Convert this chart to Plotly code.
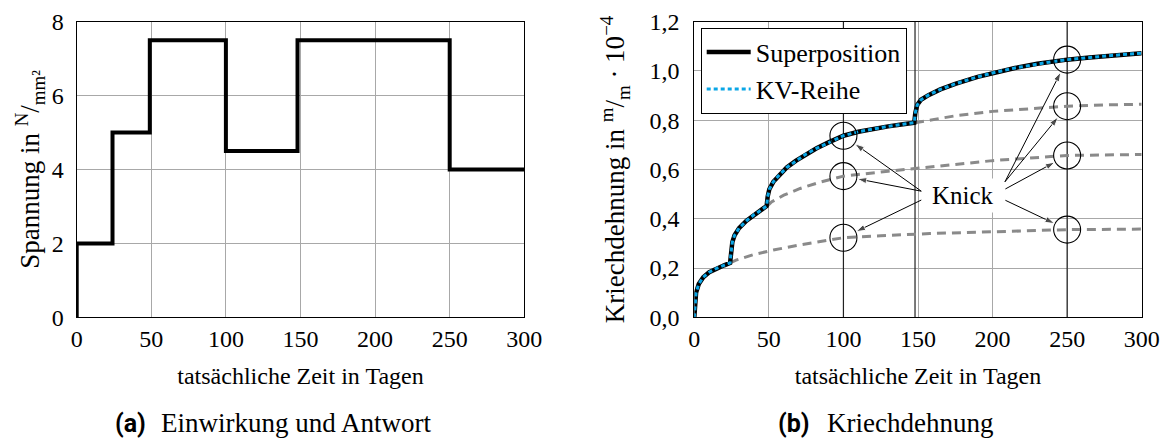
import numpy as np
import plotly.graph_objects as go

# ---------------------------------------------------------------
# (a) Belastungsgeschichte: Spannung in N/mm² über der Zeit in Tagen
# ---------------------------------------------------------------
t_stress = [0, 0, 24, 24, 49, 49, 100, 100, 148, 148, 250, 250, 300]
sigma = [0, 2, 2, 5, 5, 7.5, 7.5, 4.5, 4.5, 7.5, 7.5, 4, 4]

# ---------------------------------------------------------------
# (b) Kriechdehnung in m/m · 1e-4
# ---------------------------------------------------------------
t_super = [0, 0.5, 1.2, 3, 6, 10, 15, 20, 24, 24.6, 25.5, 27, 30, 35, 40, 45,
           48.5, 49.2, 50.3, 53, 57, 62, 68, 75, 82, 90, 100, 110, 120, 130,
           140, 147.5, 148.2, 149.5, 152, 157, 165, 175, 190, 200, 215, 230,
           240, 250, 265, 280, 300]
eps_super = [0.0, 0.06, 0.10, 0.135, 0.163, 0.183, 0.199, 0.211, 0.221, 0.26,
             0.305, 0.333, 0.362, 0.392, 0.416, 0.436, 0.452, 0.49, 0.52, 0.55,
             0.578, 0.608, 0.635, 0.663, 0.686, 0.710, 0.737, 0.753, 0.765,
             0.775, 0.784, 0.790, 0.83, 0.862, 0.883, 0.902, 0.925, 0.948,
             0.976, 0.992, 1.012, 1.029, 1.038, 1.046, 1.055, 1.063, 1.072]

# KV-Reihe (Kelvin-Voigt-Reihe), deckungsgleich mit der Superposition
t_kv = list(t_super)
eps_kv = [0.0, 0.06, 0.10, 0.135, 0.163, 0.183, 0.199, 0.211, 0.221, 0.26,
          0.305, 0.333, 0.362, 0.392, 0.416, 0.436, 0.452, 0.49, 0.52, 0.55,
          0.578, 0.608, 0.635, 0.663, 0.686, 0.710, 0.737, 0.753, 0.765,
          0.775, 0.784, 0.790, 0.83, 0.862, 0.883, 0.902, 0.925, 0.948,
          0.976, 0.992, 1.012, 1.029, 1.038, 1.046, 1.055, 1.063, 1.072]

# Verläufe ohne weitere Laststufe (gestrichelt)
t_part1 = [24, 28, 40, 53, 70, 85, 100, 125, 158, 200, 250, 300]
eps_part1 = [0.221, 0.232, 0.255, 0.273, 0.293, 0.309, 0.323, 0.331, 0.340,
             0.347, 0.356, 0.358]

t_part2 = [49, 52, 60, 71, 85, 100, 130, 158, 200, 250, 275, 300]
eps_part2 = [0.452, 0.469, 0.496, 0.523, 0.550, 0.573, 0.593, 0.610, 0.636,
             0.657, 0.659, 0.661]

t_part3 = [148, 175, 200, 225, 250, 275, 300]
eps_part3 = [0.790, 0.818, 0.836, 0.848, 0.857, 0.862, 0.865]

# Zeitpunkte der markierten Knicke und senkrechte Hilfslinien
t_knick_left = 100
t_knick_right = 250
t_guides = [100, 148, 250]

x_ticks = [0, 50, 100, 150, 200, 250, 300]
y_ticks_a = [0, 2, 4, 6, 8]
y_ticks_b = [0.0, 0.2, 0.4, 0.6, 0.8, 1.0, 1.2]

SERIF = "Liberation Serif, DejaVu Serif, serif"
FS = 24
CYAN = "#0AA6E6"
GREY = "#8A8A8A"
GRID = "#A8A8A8"

W, H = 1167, 440
px_a = (76.7, 524.3)
px_b = (694.3, 1141.7)
px_y = (21.7, 317.3)
dom_a = [px_a[0] / W, px_a[1] / W]
dom_b = [px_b[0] / W, px_b[1] / W]
dom_y = [(H - px_y[1]) / H, (H - px_y[0]) / H]
X_RANGE = [0, 300]
Y_RANGE_B = [0, 1.2]
# Pixel je Dateneinheit im rechten Diagramm
sx = (px_b[1] - px_b[0]) / (X_RANGE[1] - X_RANGE[0])
sy = (px_y[1] - px_y[0]) / (Y_RANGE_B[1] - Y_RANGE_B[0])

fig = go.Figure()

# (a) Spannungsverlauf
fig.add_trace(go.Scatter(x=t_stress, y=sigma, mode="lines",
                         line=dict(color="black", width=4),
                         showlegend=False, xaxis="x", yaxis="y"))

# (b) gestrichelte Teilverläufe
for tt, ee in [(t_part1, eps_part1), (t_part2, eps_part2), (t_part3, eps_part3)]:
    fig.add_trace(go.Scatter(x=tt, y=ee, mode="lines",
                             line=dict(color=GREY, width=3, dash="9px,6px"),
                             showlegend=False, xaxis="x2", yaxis="y2"))

fig.add_trace(go.Scatter(x=t_super, y=eps_super, mode="lines", name="Superposition",
                         line=dict(color="black", width=4.5),
                         xaxis="x2", yaxis="y2"))
fig.add_trace(go.Scatter(x=t_kv, y=eps_kv, mode="lines", name="KV-Reihe",
                         line=dict(color=CYAN, width=3, dash="4px,3px"),
                         xaxis="x2", yaxis="y2"))

# Kreise an den Knickstellen
left_pts = [(t_knick_left, float(np.interp(t_knick_left, t, e)))
            for t, e in [(t_super, eps_super), (t_part2, eps_part2), (t_part1, eps_part1)]]
right_pts = [(t_knick_right, float(np.interp(t_knick_right, t, e)))
             for t, e in [(t_super, eps_super), (t_part3, eps_part3),
                          (t_part2, eps_part2), (t_part1, eps_part1)]]
circ = left_pts + right_pts
R = 13.5
fig.add_trace(go.Scatter(x=[p[0] for p in circ], y=[p[1] for p in circ], mode="markers",
                         marker=dict(symbol="circle-open", size=2 * R,
                                     color="black", line=dict(width=1.1, color="black")),
                         showlegend=False, xaxis="x2", yaxis="y2"))

# Pfeile vom Schriftzug "Knick" bis an den Kreisrand
label_pos = (180, 0.496)
tails_left = [(152.2, 0.512), (152.2, 0.512), (152.2, 0.476)]
tails_right = [(208.3, 0.55), (208.3, 0.55), (208.6, 0.521), (208.6, 0.475)]
for (cx, cy), (tx, ty) in zip(circ, tails_left + tails_right):
    dxp, dyp = (tx - cx) * sx, (ty - cy) * sy
    n = np.hypot(dxp, dyp)
    ex = cx + (R + 0.5) * dxp / n / sx
    ey = cy + (R + 0.5) * dyp / n / sy
    fig.add_trace(go.Scatter(x=[tx, ex], y=[ty, ey], mode="lines+markers",
                             line=dict(color="black", width=1),
                             marker=dict(symbol="arrow", size=[0, 10], color="black",
                                         angleref="previous"),
                             showlegend=False, hoverinfo="skip",
                             xaxis="x2", yaxis="y2"))

annotations = [dict(x=label_pos[0], y=label_pos[1], xref="x2", yref="y2",
                    text="Knick", showarrow=False, bgcolor="white",
                    borderpad=3, font=dict(family=SERIF, size=25, color="black"))]

# Unterschriften der Teilbilder
cap_y = 1 - 423 / H
annotations += [
    dict(x=148 / W, y=cap_y, xref="paper", yref="paper", xanchor="right",
         yanchor="middle", text="<b>(a)</b>", showarrow=False,
         font=dict(family="Roboto", size=25, color="black")),
    dict(x=159 / W, y=cap_y, xref="paper", yref="paper", xanchor="left",
         yanchor="middle", text="Einwirkung und Antwort", showarrow=False,
         font=dict(family=SERIF, size=27, color="black")),
    dict(x=812 / W, y=cap_y, xref="paper", yref="paper", xanchor="right",
         yanchor="middle", text="<b>(b)</b>", showarrow=False,
         font=dict(family="Roboto", size=25, color="black")),
    dict(x=825 / W, y=cap_y, xref="paper", yref="paper", xanchor="left",
         yanchor="middle", text="Kriechdehnung", showarrow=False,
         font=dict(family=SERIF, size=27, color="black")),
]

shapes = [dict(type="line", xref="x2", yref="y2", x0=t, x1=t,
               y0=Y_RANGE_B[0], y1=Y_RANGE_B[1],
               line=dict(color="#222222", width=1.2), layer="between")
          for t in t_guides]

axis_common = dict(showgrid=True, gridcolor=GRID, gridwidth=1, zeroline=False,
                   showline=True, mirror=True, linecolor="black", linewidth=1.2,
                   ticks="", automargin=False,
                   tickfont=dict(family=SERIF, size=FS, color="black"))

fig.update_layout(
    width=W, height=H,
    margin=dict(l=0, r=0, t=0, b=0, autoexpand=False),
    paper_bgcolor="white", plot_bgcolor="white",
    separators=",.",
    font=dict(family=SERIF, size=FS, color="black"),
    xaxis=dict(domain=dom_a, range=X_RANGE, tickvals=x_ticks, anchor="y",
               ticklabelstandoff=0,
               title=dict(text="tatsächliche Zeit in Tagen", standoff=15,
                          font=dict(family=SERIF, size=FS)), **axis_common),
    yaxis=dict(domain=dom_y, range=[0, 8], tickvals=y_ticks_a, anchor="x",
               ticklabelstandoff=7,
               title=dict(text="Spannung in <sup>N</sup>/<sub>mm²</sub>", standoff=4,
                          font=dict(family=SERIF, size=27)), **axis_common),
    xaxis2=dict(domain=dom_b, range=X_RANGE, tickvals=x_ticks, anchor="y2",
                ticklabelstandoff=0,
                title=dict(text="tatsächliche Zeit in Tagen", standoff=15,
                           font=dict(family=SERIF, size=FS)), **axis_common),
    yaxis2=dict(domain=dom_y, range=Y_RANGE_B, tickvals=y_ticks_b, tickformat=".1f",
                anchor="x2", ticklabelstandoff=9,
                title=dict(text="Kriechdehnung in <sup>m</sup>/<sub>m</sub> · 10<sup>−4</sup>",
                           standoff=16, font=dict(family=SERIF, size=27)),
                **axis_common),
    legend=dict(x=700.7 / W, y=(H - 27.7) / H, xanchor="left", yanchor="top",
                bgcolor="white", bordercolor="black", borderwidth=1,
                font=dict(family=SERIF, size=26, color="black"),
                itemwidth=44, tracegroupgap=0),
    annotations=annotations,
    shapes=shapes,
)

fig.write_html("out.html")
